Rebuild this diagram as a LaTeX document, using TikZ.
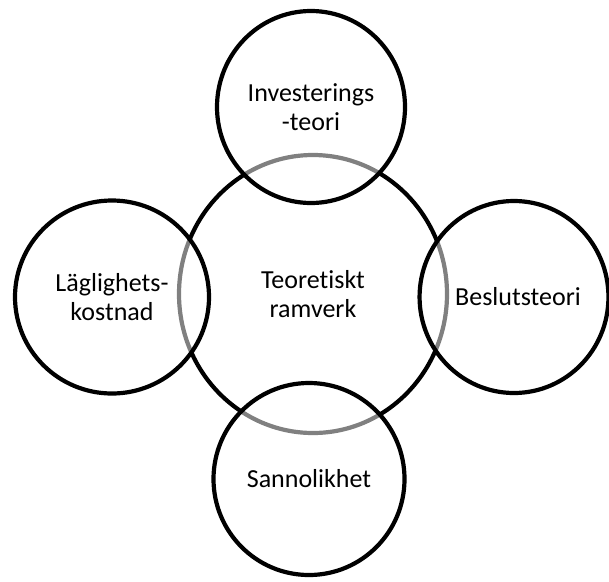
\documentclass[tikz,border=0pt]{standalone}
\usepackage{fontspec}
\setmainfont{Carlito}[Ligatures=NoCommon]
\usetikzlibrary{shapes.geometric}
\begin{document}
\begin{tikzpicture}[x=1pt,y=-1pt]
\tikzset{
  ring/.style={ellipse, draw=black, line width=4.2pt, inner sep=0pt, outer sep=0pt,
    align=center, font=\fontsize{26pt}{29pt}\selectfont},
  outerring/.style={ring, fill=white, fill opacity=0.5, text opacity=1, draw opacity=1}
}
\useasboundingbox (0,0) rectangle (609,581);
\node[ring, minimum width=268pt, minimum height=278pt] (core) at (313,294) {Teoretiskt\\ramverk};
\node[outerring, minimum width=188pt, minimum height=192pt] (top) at (311,107) {Investerings\\-teori};
\node[outerring, minimum width=191pt, minimum height=192pt] (bottom) at (309,479) {Sannolikhet};
\node[outerring, minimum width=194pt, minimum height=193pt] (left) at (112,297) {Läglighets-\\kostnad};
\node[outerring, minimum width=182pt, minimum height=192pt] (right) at (514,297) {\hspace*{8pt}Beslutsteori};
\end{tikzpicture}
\end{document}
